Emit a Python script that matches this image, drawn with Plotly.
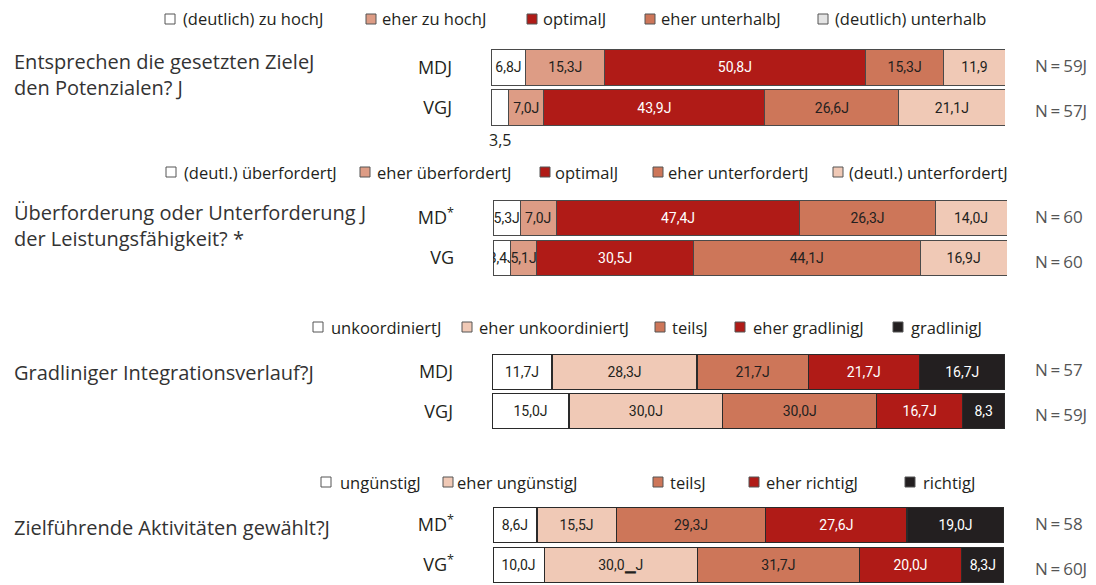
"""Stacked percentage bars: goal setting and integration ratings, MD vs VG."""
import plotly.graph_objs as go
from plotly.subplots import make_subplots

W, H = 1096, 585

# --- data -------------------------------------------------------------------
rows = ["MD", "VG"]

p1_question = "Entsprechen die gesetzten ZieleJ<br>den Potenzialen? J"
p1_cats = ["(deutlich) zu hochJ", "eher zu hochJ", "optimalJ", "eher unterhalbJ", "(deutlich) unterhalb"]
p1_md = [6.8, 15.3, 50.8, 15.3, 11.9]
p1_vg = [3.5, 7.0, 43.9, 26.6, 21.1]
p1_md_text = ["6,8J", "15,3J", "50,8J", "15,3J", "11,9"]
p1_vg_text = ["", "7,0J", "43,9J", "26,6J", "21,1J"]
p1_rowlabels = ["MDJ", "VGJ"]
p1_n = ["N\u2009=\u200959J", "N\u2009=\u200957J"]

p2_question = "Überforderung oder Unterforderung J<br>der Leistungsfähigkeit? *"
p2_cats = ["(deutl.) überfordertJ", "eher überfordertJ", "optimalJ", "eher unterfordertJ", "(deutl.) unterfordertJ"]
p2_md = [5.3, 7.0, 47.4, 26.3, 14.0]
p2_vg = [3.4, 5.1, 30.5, 44.1, 16.9]
p2_md_text = ["5,3J", "7,0J", "47,4J", "26,3J", "14,0J"]
p2_vg_text = ["3,4J", "5,1J", "30,5J", "44,1J", "16,9J"]
p2_rowlabels = ["MD<sup>*</sup>", "VG"]
p2_n = ["N\u2009=\u200960", "N\u2009=\u200960"]

p3_question = "Gradliniger Integrationsverlauf?J"
p3_cats = ["unkoordiniertJ", "eher unkoordiniertJ", "teilsJ", "eher gradlinigJ", "gradlinigJ"]
p3_md = [11.7, 28.3, 21.7, 21.7, 16.7]
p3_vg = [15.0, 30.0, 30.0, 16.7, 8.3]
p3_md_text = ["11,7J", "28,3J", "21,7J", "21,7J", "16,7J"]
p3_vg_text = ["15,0J", "30,0J", "30,0J", "16,7J", "8,3"]
p3_rowlabels = ["MDJ", "VGJ"]
p3_n = ["N\u2009=\u200957", "N\u2009=\u200959J"]

p4_question = "Zielführende Aktivitäten gewählt?J"
p4_cats = ["ungünstigJ", "eher ungünstigJ", "teilsJ", "eher richtigJ", "richtigJ"]
p4_md = [8.6, 15.5, 29.3, 27.6, 19.0]
p4_vg = [10.0, 30.0, 31.7, 20.0, 8.3]
p4_md_text = ["8,6J", "15,5J", "29,3J", "27,6J", "19,0J"]
p4_vg_text = ["10,0J", "30,0▁J", "31,7J", "20,0J", "8,3J"]
p4_rowlabels = ["MD<sup>*</sup>", "VG<sup>*</sup>"]
p4_n = ["N\u2009=\u200958", "N\u2009=\u200960J"]

# --- styling ----------------------------------------------------------------
WHITE, SALMON, RED, TERRA, PEACH, BLACK = "#ffffff", "#dd9c85", "#b01b17", "#cd7659", "#f0c9b6", "#231f20"
colors_a = [WHITE, SALMON, RED, TERRA, PEACH]
colors_b = [WHITE, PEACH, TERRA, RED, BLACK]

FONT = "Open Sans, Noto Sans, sans-serif"
NARROW = "Liberation Sans Narrow, Roboto, sans-serif"
TXT = "#231f20"

# pixel layout per panel: bar x span, bar y span, legend y, legend squares / text starts, question y
panels = [
    dict(q=p1_question, cats=p1_cats, md=p1_md, vg=p1_vg, mdt=p1_md_text, vgt=p1_vg_text,
         rl=p1_rowlabels, n=p1_n, colors=colors_a, legcolors=[WHITE, SALMON, RED, TERRA, "#e4e4e4"],
         x=(491, 1005), y=(47, 128), ly=19, sq=[165, 366, 527, 645, 818], tx=[181, 380, 541, 659, 833],
         qy=74, line="#4a4a4a", lw=1),
    dict(q=p2_question, cats=p2_cats, md=p2_md, vg=p2_vg, mdt=p2_md_text, vgt=p2_vg_text,
         rl=p2_rowlabels, n=p2_n, colors=colors_a, legcolors=colors_a,
         x=(493, 1007), y=(198, 278), ly=172, sq=[166, 360, 540, 653, 833], tx=[182, 375, 553, 666, 847],
         qy=226, line="#4a4a4a", lw=1),
    dict(q=p3_question, cats=p3_cats, md=p3_md, vg=p3_vg, mdt=p3_md_text, vgt=p3_vg_text,
         rl=p3_rowlabels, n=p3_n, colors=colors_b, legcolors=colors_b,
         x=(492, 1005), y=(352, 431), ly=327, sq=[313, 462, 655, 735, 893], tx=[329, 477, 670, 751, 909],
         qy=372, line="#2a2a2a", lw=1.2),
    dict(q=p4_question, cats=p4_cats, md=p4_md, vg=p4_vg, mdt=p4_md_text, vgt=p4_vg_text,
         rl=p4_rowlabels, n=p4_n, colors=colors_b, legcolors=colors_b,
         x=(493, 1004), y=(505, 585), ly=482, sq=[321, 443, 653, 749, 905], tx=[338, 455, 668, 764, 921],
         qy=527, line="#2a2a2a", lw=1.2),
]


def px(x):
    return x / W


def py(y):
    return 1 - y / H


fig = make_subplots(rows=4, cols=1)
shapes, annotations = [], []

for i, p in enumerate(panels, start=1):
    for k, cat in enumerate(p["cats"]):
        col = p["colors"][k]
        fig.add_trace(
            go.Bar(
                y=rows, x=[p["md"][k], p["vg"][k]], orientation="h", name=cat,
                marker=dict(color=col, line=dict(color=p["line"], width=p["lw"])),
                text=[p["mdt"][k], p["vgt"][k]], textposition="inside", insidetextanchor="middle",
                textangle=0,
                textfont=dict(family=NARROW, size=14, color="white" if col in (RED, BLACK) else TXT),
                showlegend=False, hoverinfo="skip",
            ),
            row=i, col=1,
        )
    xa = "xaxis" if i == 1 else f"xaxis{i}"
    ya = "yaxis" if i == 1 else f"yaxis{i}"
    fig.layout[xa].update(domain=[px(p["x"][0]), px(p["x"][1])], range=[0, 100],
                          visible=False, fixedrange=True)
    fig.layout[ya].update(domain=[py(p["y"][1]), py(p["y"][0])], autorange="reversed",
                          showgrid=False, zeroline=False, showline=False, ticks="",
                          tickvals=rows, ticktext=p["rl"], ticklabelstandoff=38,
                          tickfont=dict(family=FONT, size=18, color=TXT), fixedrange=True)

    # legend row
    for k, cat in enumerate(p["cats"]):
        s = p["sq"][k]
        shapes.append(dict(type="rect", xref="paper", yref="paper",
                           x0=px(s), x1=px(s + 10), y0=py(p["ly"] + 5), y1=py(p["ly"] - 5),
                           fillcolor=p["legcolors"][k], line=dict(color="#555555", width=1)))
        annotations.append(dict(text=cat, xref="paper", yref="paper", x=px(p["tx"][k]), y=py(p["ly"]),
                                xanchor="left", yanchor="middle", showarrow=False,
                                font=dict(family=FONT, size=16.5, color=TXT)))

    # question text
    annotations.append(dict(text=p["q"], xref="paper", yref="paper", x=px(12), y=py(p["qy"]),
                            xanchor="left", yanchor="middle", showarrow=False, align="left",
                            font=dict(family=FONT, size=20, color="#333333")))

    # N labels
    yr = "y" if i == 1 else f"y{i}"
    for r, nl, shift in zip(rows, p["n"], (2, -3)):
        annotations.append(dict(text=nl, xref="paper", yref=yr, x=px(1033), y=r, yshift=shift,
                                xanchor="left", yanchor="middle", showarrow=False,
                                font=dict(family=FONT, size=17, color="#555555")))

# small first VG segment of panel 1 is labelled below the bar
annotations.append(dict(text="3,5", xref="x", yref="paper",
                        x=100 * p1_vg[0] / sum(p1_vg) / 2, y=py(140),
                        xanchor="center", yanchor="middle", showarrow=False,
                        font=dict(family=FONT, size=16, color=TXT)))

fig.update_layout(
    width=W, height=H, barmode="stack", barnorm="percent", bargap=0.12,
    margin=dict(l=0, r=0, t=0, b=0),
    paper_bgcolor="white", plot_bgcolor="white",
    uniformtext=dict(minsize=14, mode="show"),
    shapes=shapes, annotations=annotations,
)

# the page's default body margin would shift the figure by 8px
fig.write_html("out.html", config={"displayModeBar": False},
               post_script="document.body.style.margin = '0';")
